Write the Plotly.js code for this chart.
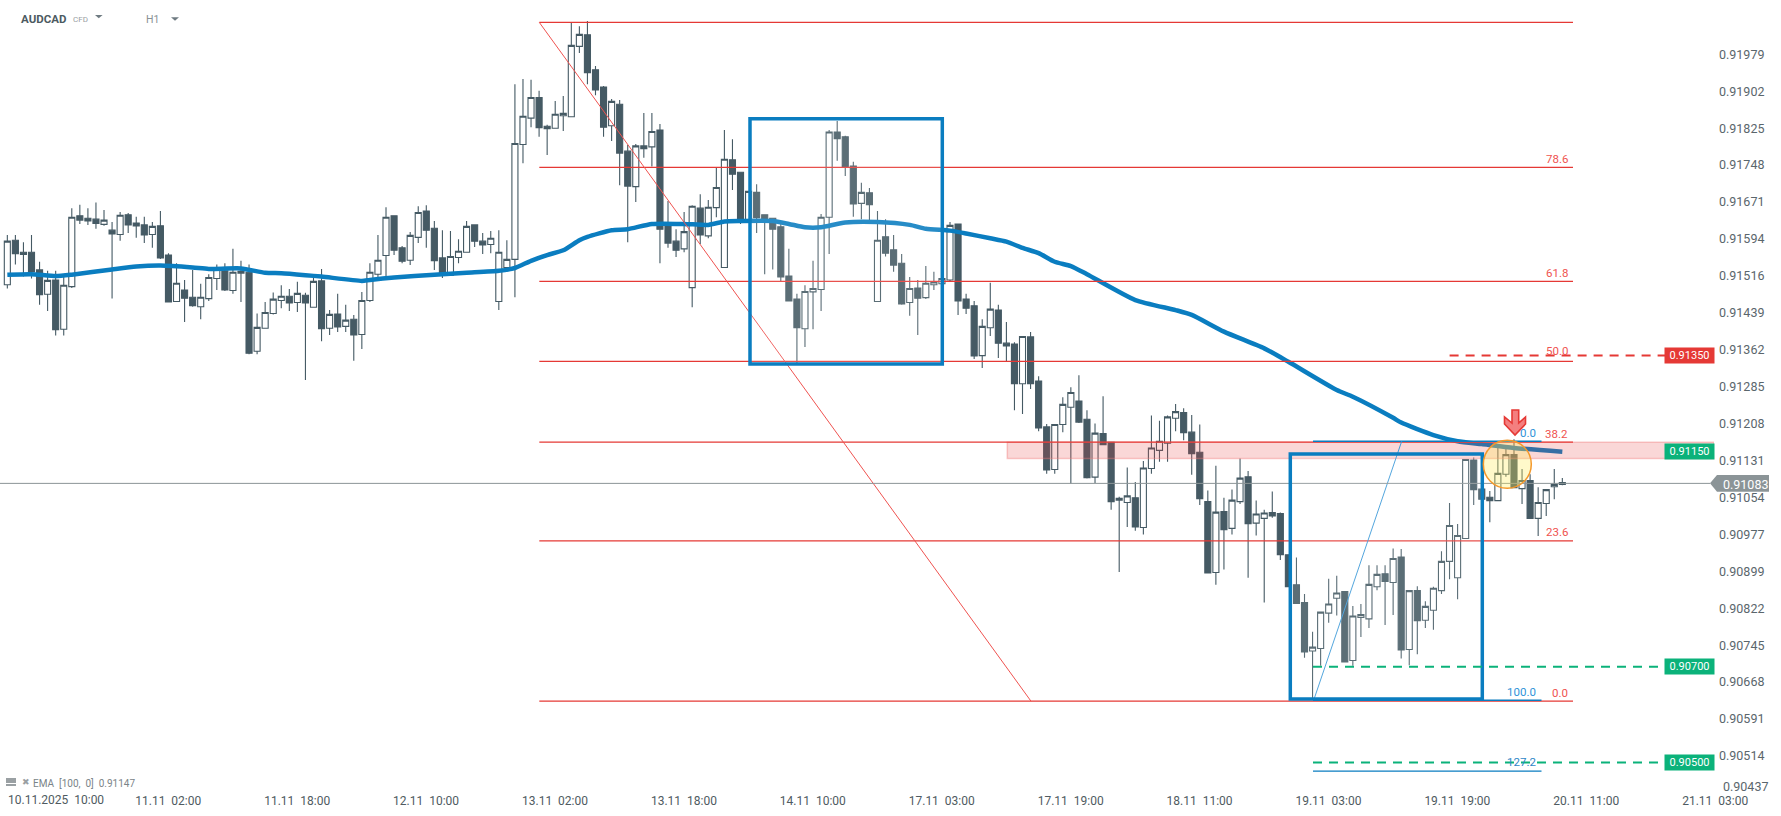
<!DOCTYPE html>
<html><head><meta charset="utf-8">
<script src="https://cdn.plot.ly/plotly-3.0.1.min.js"></script>
<style>html,body{margin:0;padding:0;background:#fff}#c{width:1781px;height:816px}</style>
</head><body><div id="c"></div>
<script>
const opens=[.91498,.91591,.91566,.91566,.91529,.91478,.91508,.91405,.91494,.91642,
.91637,.91635,.91624,.91612,.91603,.91644,.91627,.91623,.91603,.91621,
.91560,.91463,.91487,.91472,.91452,.91469,.91511,.91527,.91486,.91522,
.91524,.91359,.91407,.91438,.91465,.91474,.91461,.91476,.91451,.91506,
.91407,.91437,.91411,.91426,.91394,.91465,.91520,.91559,.91642,.91575,
.91549,.91597,.91652,.91616,.91554,.91518,.91555,.91566,.91623,.91589,
.91582,.91463,.91534,.91551,.91791,.91846,.91889,.91829,.91825,.91851,
.91849,.91996,.92020,.91947,.91911,.91830,.91875,.91777,.91703,.91788,
.91786,.91821,.91621,.91589,.91573,.91492,.91658,.91600,.91659,.91534,
.91759,.91733,.91633,.91691,.91644,.91637,.91619,.91516,.91468,.91406,
.91483,.91488,.91639,.91817,.91807,.91746,.91668,.91690,.91463,.91598,
.91571,.91543,.91461,.91491,.91471,.91498,.91500,.91508,.91625,.91468,
.91454,.91350,.91408,.91445,.91376,.91374,.91291,.91389,.91297,.91201,
.91112,.91206,.91242,.91255,.91217,.91096,.91187,.91169,.91048,.91043,
.91053,.90991,.91114,.91152,.91167,.91219,.91231,.91190,.91148,.91045,
.90897,.91024,.90989,.91045,.91097,.91000,.91010,.91022,.91020,.90934,
.90871,.90834,.90733,.90738,.90812,.90843,.90857,.90713,.90803,.90800,
.90867,.90894,.90876,.90929,.90736,.90859,.90797,.90818,.90859,.90920,
.90886,.90968,.91132,.91071,.91054,.91047,.91102,.91143,.91072,.91089,
.91010,.91041,.91076,.91081];
const highs=[.91602,.91602,.91587,.91602,.91546,.91527,.91527,.91520,.91658,.91665,
.91658,.91670,.91654,.91629,.91650,.91648,.91640,.91640,.91629,.91652,
.91564,.91543,.91508,.91529,.91500,.91520,.91540,.91543,.91573,.91548,
.91540,.91438,.91462,.91482,.91497,.91489,.91504,.91481,.91515,.91531,
.91445,.91479,.91456,.91435,.91483,.91543,.91602,.91660,.91642,.91579,
.91608,.91662,.91664,.91631,.91612,.91610,.91593,.91631,.91623,.91606,
.91610,.91612,.91591,.91917,.91928,.91926,.91903,.91832,.91882,.91892,
.92046,.92038,.92049,.91955,.91913,.91886,.91884,.91790,.91792,.91857,
.91857,.91834,.91673,.91614,.91650,.91664,.91687,.91675,.91743,.91821,
.91802,.91733,.91694,.91708,.91644,.91637,.91626,.91573,.91479,.91497,
.91548,.91646,.91821,.91840,.91809,.91755,.91711,.91700,.91652,.91635,
.91602,.91562,.91514,.91508,.91537,.91525,.91513,.91629,.91625,.91479,
.91464,.91426,.91502,.91456,.91420,.91378,.91390,.91399,.91307,.91207,
.91206,.91263,.91284,.91309,.91236,.91208,.91265,.91169,.91055,.91116,
.91086,.91130,.91225,.91214,.91225,.91249,.91240,.91226,.91206,.91068,
.91120,.91053,.91070,.91135,.91109,.91047,.91028,.91066,.91022,.90934,
.90928,.90852,.90773,.90814,.90884,.90890,.90857,.90827,.90831,.90912,
.90912,.90912,.90947,.90946,.90860,.90868,.90837,.90867,.90941,.91042,
.90998,.91134,.91137,.91071,.91067,.91157,.91159,.91175,.91113,.91102,
.91075,.91070,.91113,.91094];
const lows=[.91490,.91540,.91515,.91511,.91456,.91443,.91392,.91392,.91491,.91625,
.91623,.91615,.91621,.91469,.91590,.91606,.91596,.91585,.91575,.91552,
.91462,.91463,.91420,.91452,.91426,.91464,.91487,.91485,.91479,.91462,
.91353,.91353,.91407,.91436,.91449,.91443,.91441,.91299,.91451,.91380,
.91393,.91399,.91399,.91339,.91364,.91462,.91511,.91513,.91560,.91543,
.91539,.91585,.91575,.91529,.91512,.91518,.91543,.91566,.91577,.91562,
.91564,.91445,.91525,.91472,.91752,.91827,.91807,.91769,.91825,.91819,
.91849,.91982,.91917,.91894,.91807,.91798,.91706,.91587,.91671,.91763,
.91745,.91543,.91575,.91556,.91566,.91451,.91583,.91595,.91639,.91534,
.91696,.91625,.91630,.91606,.91520,.91530,.91505,.91464,.91334,.91368,
.91405,.91443,.91562,.91757,.91725,.91640,.91635,.91633,.91463,.91557,
.91525,.91456,.91433,.91393,.91468,.91487,.91500,.91505,.91435,.91437,
.91343,.91324,.91391,.91345,.91338,.91236,.91228,.91280,.91192,.91103,
.91103,.91190,.91083,.91209,.91093,.91084,.91164,.91028,.90898,.90992,
.90984,.90976,.91103,.91128,.91128,.91192,.91173,.91101,.91038,.90896,
.90871,.90903,.90976,.91040,.90886,.90974,.90834,.91011,.90923,.90867,
.90832,.90719,.90634,.90702,.90792,.90807,.90710,.90702,.90762,.90781,
.90860,.90787,.90808,.90717,.90703,.90726,.90781,.90777,.90852,.90883,
.90841,.90968,.91038,.91048,.91002,.91047,.91097,.91074,.91040,.91010,
.90973,.91015,.91050,.91079];
const closes=[.91589,.91563,.91561,.91525,.91477,.91507,.91404,.91497,.91639,.91633,
.91631,.91626,.91633,.91604,.91643,.91623,.91621,.91602,.91620,.91554,
.91462,.91501,.91470,.91454,.91472,.91513,.91534,.91487,.91524,.91526,
.91355,.91409,.91440,.91468,.91474,.91460,.91480,.91460,.91505,.91406,
.91436,.91410,.91424,.91393,.91465,.91524,.91549,.91639,.91570,.91547,
.91601,.91649,.91612,.91548,.91522,.91557,.91568,.91620,.91589,.91581,
.91595,.91566,.91551,.91793,.91850,.91889,.91826,.91824,.91854,.91856,
.91998,.92021,.91941,.91905,.91827,.91881,.91773,.91704,.91788,.91782,
.91818,.91614,.91585,.91570,.91609,.91662,.91602,.91660,.91701,.91760,
.91729,.91633,.91693,.91638,.91630,.91614,.91514,.91464,.91408,.91484,
.91490,.91639,.91817,.91803,.91745,.91667,.91691,.91665,.91591,.91564,
.91539,.91458,.91490,.91470,.91501,.91504,.91511,.91622,.91464,.91449,
.91349,.91411,.91447,.91376,.91370,.91291,.91390,.91291,.91199,.91111,
.91206,.91248,.91273,.91211,.91095,.91188,.91164,.91045,.91052,.91057,
.90992,.91115,.91157,.91171,.91222,.91233,.91189,.91145,.91051,.90896,
.91023,.90986,.91048,.91094,.90999,.91019,.91021,.91015,.90934,.90867,
.90832,.90731,.90741,.90814,.90831,.90854,.90710,.90806,.90809,.90872,
.90893,.90878,.90926,.90735,.90859,.90796,.90826,.90864,.90920,.90995,
.90974,.91133,.91070,.91050,.91047,.91104,.91143,.91074,.91089,.91010,
.91043,.91070,.91081,.91085];
const emaIndex=[1,4,7,9,14,17,20,24,26,30,33,35,38,40,45,46,49,54,58,62,64,66,68,70,72,73,76,78,81,85,88,90,92,96,98,100,102,105,109,113,115,118,120,123,125,127,129,131,133,135,141,146,148,152,157,160,166,168,173,174,178,181,184,188,194];
const emaValues=[.91519,.91520,.91516,.91519,.91530,.91536,.91538,.91534,.91531,.91532,.91523,.91522,.91518,.91515,.91506,.91508,.91513,.91519,.91523,.91527,.91533,.91548,.91560,.91570,.91591,.91598,.91612,.91614,.91625,.91625,.91623,.91630,.91631,.91631,.91625,.91618,.91618,.91628,.91629,.91623,.91615,.91611,.91605,.91595,.91588,.91575,.91564,.91546,.91537,.91520,.91466,.91445,.91435,.91400,.91365,.91337,.91278,.91264,.91220,.91210,.91184,.91171,.91165,.91157,.91149];
const timeIndex=[17,33,49,65,81,97,113,129,145,161,177,193,209];
const timeLabels=["11.11\u00a0\u00a002:00","11.11\u00a0\u00a018:00","12.11\u00a0\u00a010:00","13.11\u00a0\u00a002:00","13.11\u00a0\u00a018:00","14.11\u00a0\u00a010:00","17.11\u00a0\u00a003:00","17.11\u00a0\u00a019:00","18.11\u00a0\u00a011:00","19.11\u00a0\u00a003:00","19.11\u00a0\u00a019:00","20.11\u00a0\u00a011:00","21.11\u00a0\u00a003:00"];
const priceTicks=[.91979,.91902,.91825,.91748,.91671,.91594,.91516,.91439,.91362,.91285,.91208,.91131,.91054,.90977,.90899,.90822,.90745,.90668,.90591,.90514];
const fibRed=[[0.0,.90628],[23.6,.90963],[38.2,.91169],[50.0,.91338],[61.8,.91505],[78.6,.91743]];
const fibTop=.92046;
const lastPrice=.91083;

const W=1714,H=792,DARK='#455a64',BLUE='#0a7dc0',RED='#e53935',GREEN='#0bb27a',GREY='#8b9497';
const idx=px=>1+(px-7.33)/8.057;
const pr=py=>.920928-py*.00002089;
const X=px=>px/W, Y=py=>1-py/H;
const poly=pts=>'M'+pts.map(p=>X(p[0])+' '+Y(p[1])).join(' L')+' Z';

const shapes=[];
const seg=(x0,y0,x1,y1,color,width,dash)=>shapes.push({type:'line',xref:'x',yref:'y',x0,y0,x1,y1,layer:'above',line:{color,width,dash:dash||'solid'}});
shapes.push({type:'rect',xref:'x',yref:'y',x0:idx(1007.3),x1:idx(1714),y0:.91135,y1:.91169,layer:'above',fillcolor:'rgba(229,57,53,0.2)',line:{color:'rgba(240,120,120,0.4)',width:1.5}});
fibRed.forEach(f=>seg(idx(539.3),f[1],idx(1573),f[1],RED,1.3));
seg(idx(539.3),fibTop,idx(1573),fibTop,RED,1.3);
seg(idx(539.3),fibTop,idx(1031),.90628,'#ef5350',1);
seg(idx(1313),.91169+.00002,idx(1541.5),.91169+.00002,BLUE,1.5);
seg(idx(1313),.90628+.00002,idx(1541.5),.90628+.00002,BLUE,1.5);
seg(idx(1313),.90482,idx(1541.5),.90482,BLUE,1.3);
seg(idx(1314),.90632,idx(1401.7),.91171,'#3c9ad9',1);
seg(0,lastPrice,idx(1710),lastPrice,GREY,1);
const box=(a,b,c,d)=>shapes.push({type:'rect',xref:'x',yref:'y',x0:idx(a),x1:idx(b),y0:pr(d),y1:pr(c),layer:'above',fillcolor:'rgba(255,255,255,0.12)',line:{color:BLUE,width:3.5}});
box(750,942.3,118.7,364);
box(1290.3,1482.3,454,699);
const dsh='9px,7px';
seg(idx(1449.6),.91350,idx(1665),.91350,RED,2,dsh);
seg(idx(1313),.90700,idx(1665),.90700,GREEN,2,dsh);
seg(idx(1313),.90500,idx(1665),.90500,GREEN,2,dsh);
shapes.push({type:'circle',xref:'paper',yref:'paper',x0:X(1483.3),x1:X(1531.3),y0:Y(488.3),y1:Y(440.3),layer:'above',fillcolor:'rgba(255,235,90,0.32)',line:{color:'#f5982a',width:1.5}});
shapes.push({type:'path',xref:'paper',yref:'paper',layer:'above',fillcolor:'#f47f7f',line:{color:RED,width:1.6},
 path:poly([[1512,410],[1518.7,410],[1518.7,423],[1525.5,417],[1525.5,424],[1515,435],[1504.5,424],[1504.5,417],[1512,423]])});
shapes.push({type:'path',xref:'paper',yref:'paper',layer:'above',fillcolor:GREY,line:{width:0},
 path:poly([[1710,483.3],[1717,475],[1769,475],[1769,491.7],[1717,491.7]])});
[[95,102.6,15,18.3],[171,179,17.3,20.7]].forEach(t=>shapes.push({type:'path',xref:'paper',yref:'paper',layer:'above',fillcolor:'#6f7b82',line:{width:0},path:poly([[t[0],t[2]],[t[1],t[2]],[(t[0]+t[1])/2,t[3]]])}));
shapes.push({type:'rect',xref:'paper',yref:'paper',x0:X(6),x1:X(16),y0:Y(786),y1:Y(778),layer:'above',fillcolor:'#9aa0a3',line:{width:0}});
shapes.push({type:'line',xref:'paper',yref:'paper',x0:X(6),x1:X(16),y0:Y(783.5),y1:Y(783.5),layer:'above',line:{color:'#fff',width:1}});

const FONT='Roboto, sans-serif';
const ann=[];
const fibLabel=(t,x,p,color,shift)=>ann.push({text:t,xref:'x',yref:'y',x:idx(x),y:p,xanchor:'right',yanchor:'middle',yshift:shift,showarrow:false,font:{family:FONT,size:11.5,color}});
[["78.6",.91743],["61.8",.91505],["50.0",.91338],["38.2",.91169],["23.6",.90963],["0.0",.90628]].forEach(l=>fibLabel(l[0],1570,l[1],'#ef5350',l[0]=="50.0"?10:8.5));
fibLabel("0.0",1538,.91169,'#2f93d8',9);
fibLabel("100.0",1538,.90628,'#2f93d8',9);
fibLabel("127.2",1538,.90482,'#2f86c8',9);
const tag=(t,p,bg)=>ann.push({text:t,xref:'paper',yref:'y',x:X(1689.5),y:p,xanchor:'center',yanchor:'middle',showarrow:false,bgcolor:bg,width:49,height:15,borderpad:0,font:{family:FONT,size:11,color:'#fff'}});
tag("0.91350",.91350,RED);tag("0.91150",.91150,GREEN);tag("0.90700",.90700,GREEN);tag("0.90500",.90500,GREEN);
const txt=(t,px,py,size,color,extra)=>ann.push(Object.assign({text:t,xref:'paper',yref:'paper',x:X(px),y:Y(py),xanchor:'left',yanchor:'middle',showarrow:false,font:{family:FONT,size,color}},extra||{}));
txt("0.91083",1721,484,12.5,'#ffffff');
txt("0.90437",1721,786,12.5,'#5a666c');
txt("<b>AUDCAD</b>",19,19,11.5,'#4c5a61');
txt("CFD",71,19.5,8,'#9aa0a3');
txt("H1",144,19.7,10.5,'#8a9296');
txt("\u2716",20,781.5,9,'#9aa0a3');
txt("EMA  [100,  0]  0.91147",31,783.7,10,'#7a8488');
txt("10.11.2025\u00a0\u00a010:00",6,799.5,12,'#4f5b61');

const data=[
 {type:'candlestick',x:opens.map((_,i)=>i+1),open:opens,high:highs,low:lows,close:closes,
  increasing:{line:{color:DARK,width:1.1},fillcolor:'#ffffff'},
  decreasing:{line:{color:DARK,width:1.1},fillcolor:DARK},
  whiskerwidth:0,hoverinfo:'skip',showlegend:false},
 {type:'scatter',mode:'lines',x:emaIndex,y:emaValues,line:{color:BLUE,width:4.5,shape:'spline',smoothing:0.6},hoverinfo:'skip',showlegend:false}
];
const layout={width:1781,height:816,margin:{l:0,r:67,t:0,b:24},paper_bgcolor:'#fff',plot_bgcolor:'#fff',showlegend:false,boxgap:0.25,boxgroupgap:0,
 font:{family:FONT},
 xaxis:{type:'linear',range:[idx(0),idx(W)],showgrid:false,zeroline:false,showline:false,ticks:'',rangeslider:{visible:false},tickmode:'array',tickvals:timeIndex,ticktext:timeLabels,tickfont:{family:FONT,size:12,color:'#4f5b61'},ticklabelshift:32,fixedrange:true},
 yaxis:{type:'linear',side:'right',range:[pr(H),pr(0)],showgrid:false,zeroline:false,showline:false,ticks:'',tickmode:'array',tickvals:priceTicks,ticktext:priceTicks.map(v=>v.toFixed(5)),tickfont:{family:FONT,size:12.5,color:'#5a666c'},ticklabelstandoff:4,fixedrange:true},
 shapes,annotations:ann};
Plotly.newPlot('c',data,layout,{displayModeBar:false,staticPlot:true});
</script></body></html>
